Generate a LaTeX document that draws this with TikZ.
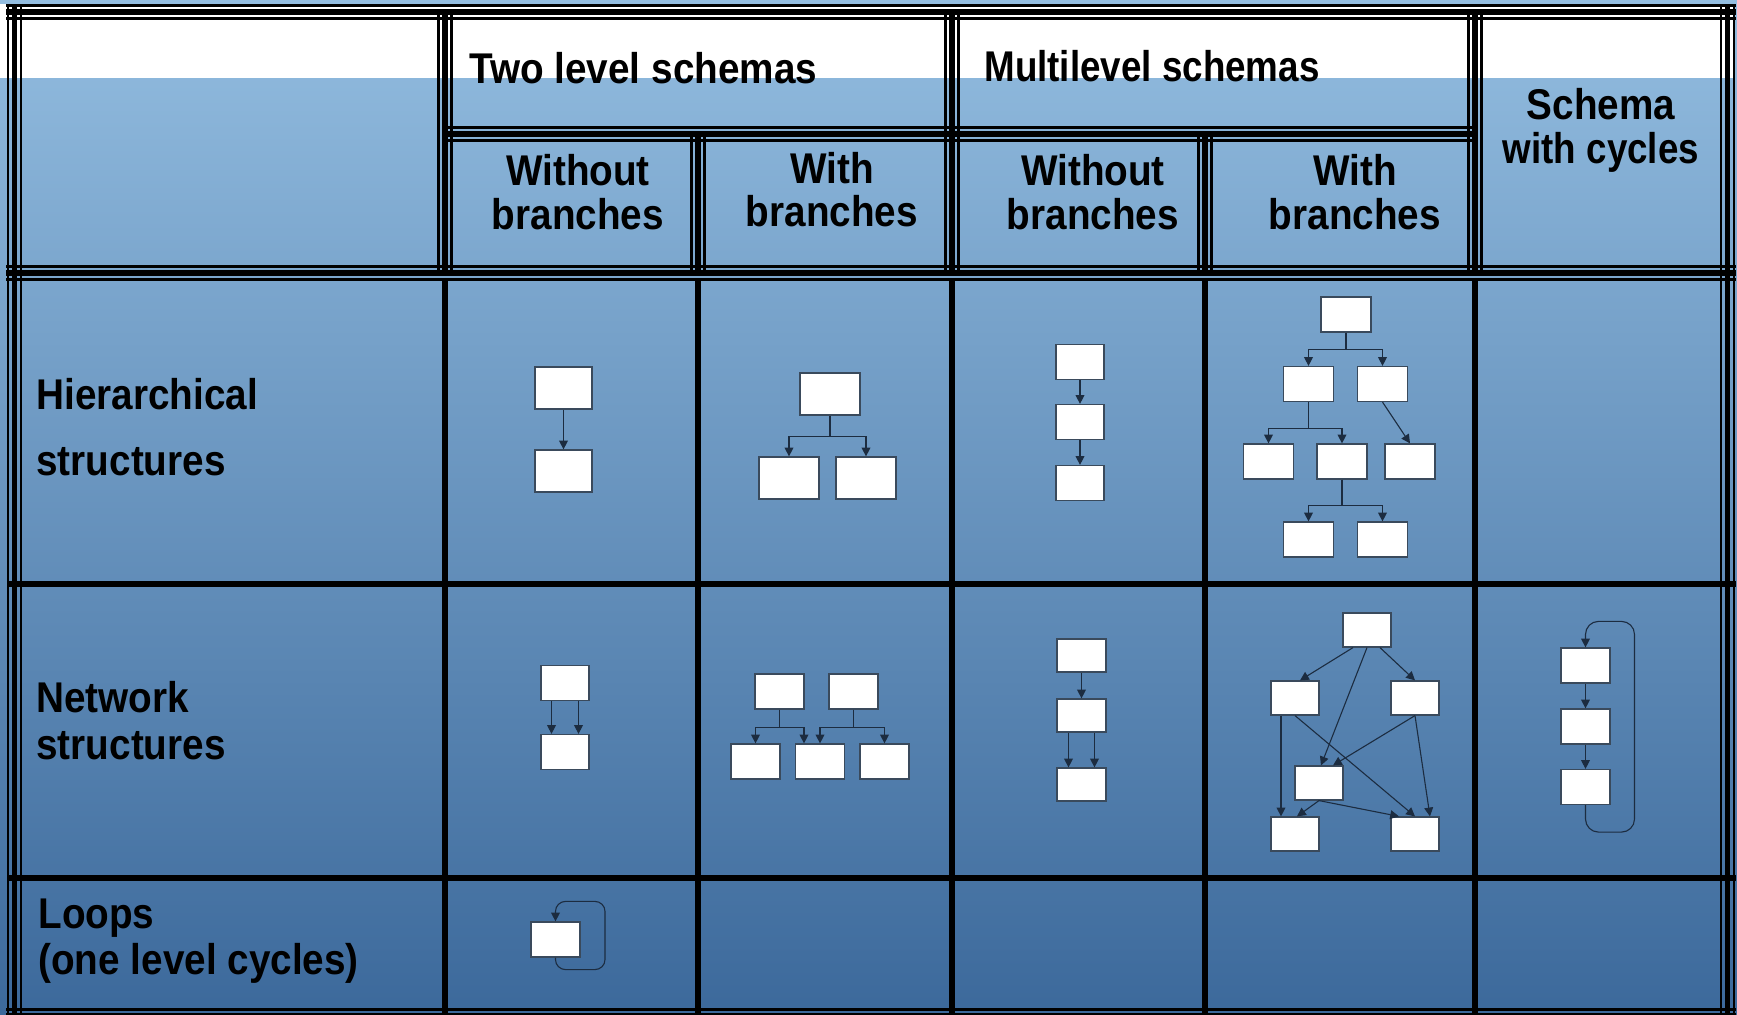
\documentclass[tikz,border=0pt]{standalone}
\usepackage{fontspec}
\setmainfont{Liberation Sans}[FakeStretch=0.9]
\newfontfamily\tightface{Liberation Sans}[FakeStretch=0.855]
\usetikzlibrary{arrows.meta,calc}

\definecolor{bgtop}{HTML}{93BDE0}
\definecolor{bgbot}{HTML}{3C699B}
\definecolor{edgecol}{HTML}{1C2C40}
\definecolor{boxline}{HTML}{3A4A5C}

% triple rule (thin - thick - thin), horizontal: y, x1, x2
\newcommand\trih[3]{%
  \draw[thinrule] (#2,#1-6.5) -- (#3,#1-6.5);
  \draw[fatrule]  (#2,#1) -- (#3,#1);
  \draw[thinrule] (#2,#1+6.5) -- (#3,#1+6.5);}
% triple rule, vertical: x, y1, y2
\newcommand\triv[3]{%
  \draw[thinrule] (#1-6.5,#2) -- (#1-6.5,#3);
  \draw[fatrule]  (#1,#2) -- (#1,#3);
  \draw[thinrule] (#1+6.5,#2) -- (#1+6.5,#3);}

\tikzset{
  thinrule/.style={line width=1.25pt, draw=black},
  fatrule/.style={line width=2.6pt, draw=black},
  cellrule/.style={line width=2.9pt, draw=black},
  bx/.style={rectangle, draw=boxline, line width=0.6pt, fill=white, inner sep=0pt},
  sz/.style 2 args={minimum width=#1, minimum height=#2},
  arr/.style={draw=edgecol, line width=0.55pt, -{Triangle[length=4.4pt,width=4.4pt]}},
  lab/.style={font=\bfseries\fontsize{21.5}{23}\selectfont, inner sep=0pt, text=black},
}

\begin{document}
\begin{tikzpicture}[x=0.5pt, y=-0.5pt]
\useasboundingbox (0,0) rectangle (1737,1015);
\clip (0,0) rectangle (1737,1015);

% background
\shade[top color=bgtop, bottom color=bgbot] (0,0) rectangle (1737,1015);
\fill[white] (0,4) rectangle (1734,78);

% outer frame
\trih{12}{6}{1736}
\triv{14.5}{5}{1015}
\triv{1727.5}{5}{1015}
\trih{1016}{6}{1736}

% header rules
\trih{134}{445}{1475}
\trih{273}{6}{1736}
\triv{445}{12}{273}
\triv{952}{12}{273}
\triv{1475}{12}{273}
\triv{698}{134}{273}
\triv{1205}{134}{273}

% body rules
\foreach \cx in {445,698,952,1205,1475}
  \draw[cellrule] (\cx,280) -- (\cx,1015);
\draw[cellrule] (7,584) -- (1736,584);
\draw[cellrule] (7,878) -- (1736,878);

% header texts
\node[lab, anchor=base west] (t2l) at (469,84) {Two level schemas};
\node[lab, anchor=base west] (tml) at (984,82) {\tightface\bfseries Multilevel schemas};
\node[lab, anchor=base] (sc1) at (1601,120) {Schema};
\node[lab, anchor=base] (sc2) at (1601,164) {\tightface\bfseries with cycles};
\node[lab, anchor=base] (w1a) at (578,186) {Without};
\node[lab, anchor=base] (w1b) at (578,230) {branches};
\node[lab, anchor=base] (w2a) at (832,184) {With};
\node[lab, anchor=base] (w2b) at (832,227) {branches};
\node[lab, anchor=base] (w3a) at (1093,186) {Without};
\node[lab, anchor=base] (w3b) at (1093,230) {branches};
\node[lab, anchor=base] (w4a) at (1355,186) {With};
\node[lab, anchor=base] (w4b) at (1355,230) {branches};

% row texts
\node[lab, anchor=base west] (r1a) at (36,410) {Hierarchical};
\node[lab, anchor=base west] (r1b) at (36,476) {structures};
\node[lab, anchor=base west] (r2a) at (36,713) {Network};
\node[lab, anchor=base west] (r2b) at (36,760) {structures};
\node[lab, anchor=base west] (r3a) at (38,929) {Loops};
\node[lab, anchor=base west] (r3b) at (38,975) {(one level cycles)};

% hierarchical, two level, without branches
\node[bx, sz={28.5pt}{21pt}] (ha1) at (563.5,388) {};
\node[bx, sz={28.5pt}{21pt}] (ha2) at (563.5,471) {};
\draw[arr] (ha1) -- (ha2);

% hierarchical, two level, with branches
\node[bx, sz={30pt}{21pt}] (hb0) at (830,394) {};
\node[bx, sz={30pt}{21pt}] (hb1) at (789,478) {};
\node[bx, sz={30pt}{21pt}] (hb2) at (866,478) {};
\draw[arr] (hb0.south) -- ++(0,21) -| (hb1.north);
\draw[arr] (hb0.south) -- ++(0,21) -| (hb2.north);

% hierarchical, multilevel, without branches
\node[bx, sz={24pt}{17.5pt}] (hc1) at (1080,362) {};
\node[bx, sz={24pt}{17.5pt}] (hc2) at (1080,422) {};
\node[bx, sz={24pt}{17.5pt}] (hc3) at (1080,483) {};
\draw[arr] (hc1) -- (hc2);
\draw[arr] (hc2) -- (hc3);

% hierarchical, multilevel, with branches
\node[bx, sz={25pt}{17.5pt}] (hd0) at (1346,314.5) {};
\node[bx, sz={25pt}{17.5pt}] (hd1) at (1308.5,384) {};
\node[bx, sz={25pt}{17.5pt}] (hd2) at (1382.5,384) {};
\node[bx, sz={25pt}{17.5pt}] (hd3) at (1268.5,461.5) {};
\node[bx, sz={25pt}{17.5pt}] (hd4) at (1342,461.5) {};
\node[bx, sz={25pt}{17.5pt}] (hd5) at (1410,461.5) {};
\node[bx, sz={25pt}{17.5pt}] (hd6) at (1308.5,539.5) {};
\node[bx, sz={25pt}{17.5pt}] (hd7) at (1382.5,539.5) {};
\draw[arr] (hd0.south) -- ++(0,17) -| (hd1.north);
\draw[arr] (hd0.south) -- ++(0,17) -| (hd2.north);
\draw[arr] (hd1.south) -- ++(0,26) -| (hd3.north);
\draw[arr] (hd1.south) -- ++(0,26) -| (hd4.north);
\draw[arr] (hd2.south) -- (hd5.north);
\draw[arr] (hd4.south) -- ++(0,26) -| (hd6.north);
\draw[arr] (hd4.south) -- ++(0,26) -| (hd7.north);

% network, two level, without branches
\node[bx, sz={24pt}{17.5pt}] (na1) at (565,683) {};
\node[bx, sz={24pt}{17.5pt}] (na2) at (565,752) {};
\draw[arr] ($(na1.south)+(-13.5,0)$) -- ($(na2.north)+(-13.5,0)$);
\draw[arr] ($(na1.south)+(13.5,0)$) -- ($(na2.north)+(13.5,0)$);

% network, two level, with branches
\node[bx, sz={24.5pt}{17.5pt}] (nb1) at (779.5,691.5) {};
\node[bx, sz={24.5pt}{17.5pt}] (nb2) at (853.5,691.5) {};
\node[bx, sz={24.5pt}{17.5pt}] (nb3) at (755.5,761.5) {};
\node[bx, sz={24.5pt}{17.5pt}] (nb4) at (820,761.5) {};
\node[bx, sz={24.5pt}{17.5pt}] (nb5) at (884.5,761.5) {};
\draw[arr] (nb1.south) -- ++(0,18) -| (nb3.north);
\draw[arr] (nb1.south) -- ++(0,18) -| ($(nb4.north)+(-16,0)$);
\draw[arr] (nb2.south) -- ++(0,18) -| (nb4.north);
\draw[arr] (nb2.south) -- ++(0,18) -| (nb5.north);

% network, multilevel, without branches
\node[bx, sz={24.5pt}{16.5pt}] (nc1) at (1081.5,655.5) {};
\node[bx, sz={24.5pt}{16.5pt}] (nc2) at (1081.5,715.5) {};
\node[bx, sz={24.5pt}{16.5pt}] (nc3) at (1081.5,784.5) {};
\draw[arr] (nc1) -- (nc2);
\draw[arr] ($(nc2.south)+(-13,0)$) -- ($(nc3.north)+(-13,0)$);
\draw[arr] ($(nc2.south)+(13,0)$) -- ($(nc3.north)+(13,0)$);

% network, multilevel, with branches
\node[bx, sz={24pt}{17pt}] (nd0) at (1367,630) {};
\node[bx, sz={24pt}{17pt}] (nd1) at (1295,698) {};
\node[bx, sz={24pt}{17pt}] (nd2) at (1415,698) {};
\node[bx, sz={24pt}{17pt}] (nd3) at (1319,783) {};
\node[bx, sz={24pt}{17pt}] (nd4) at (1295,834) {};
\node[bx, sz={24pt}{17pt}] (nd5) at (1415,834) {};
\draw[arr] ($(nd0.south)+(-14,0)$) -- ($(nd1.north)+(5,0)$);
\draw[arr] (nd0.south) -- ($(nd3.north)+(2,0)$);
\draw[arr] ($(nd0.south)+(13,0)$) -- (nd2.north);
\draw[arr] ($(nd1.south)+(-14,0)$) -- ($(nd4.north)+(-14,0)$);
\draw[arr] (nd1.south) -- (nd5.north);
\draw[arr] (nd2.south) -- ($(nd3.north)+(14,0)$);
\draw[arr] (nd2.south) -- ($(nd5.north)+(15,0)$);
\draw[arr] (nd3.south) -- ($(nd4.north)+(2,0)$);
\draw[arr] (nd3.south) -- ($(nd5.north)+(-16,0)$);

% network schema with cycles
\node[bx, sz={24.5pt}{17.5pt}] (ne1) at (1585.5,665.5) {};
\node[bx, sz={24.5pt}{17.5pt}] (ne2) at (1585.5,726.5) {};
\node[bx, sz={24.5pt}{17.5pt}] (ne3) at (1585.5,787) {};
\draw[arr] (ne1) -- (ne2);
\draw[arr] (ne2) -- (ne3);
\draw[arr, rounded corners=6.5pt] (ne3.south) -- ++(0,27) -| ($(ne1.north)+(49,-26)$) -| (ne1.north);

% loop
\node[bx, sz={24.5pt}{17.5pt}] (lp) at (555.5,939.5) {};
\draw[arr, rounded corners=5pt] (lp.south) -- ++(0,12) -| ($(lp.north)+(49.5,-20)$) -| (lp.north);

\end{tikzpicture}
\end{document}
